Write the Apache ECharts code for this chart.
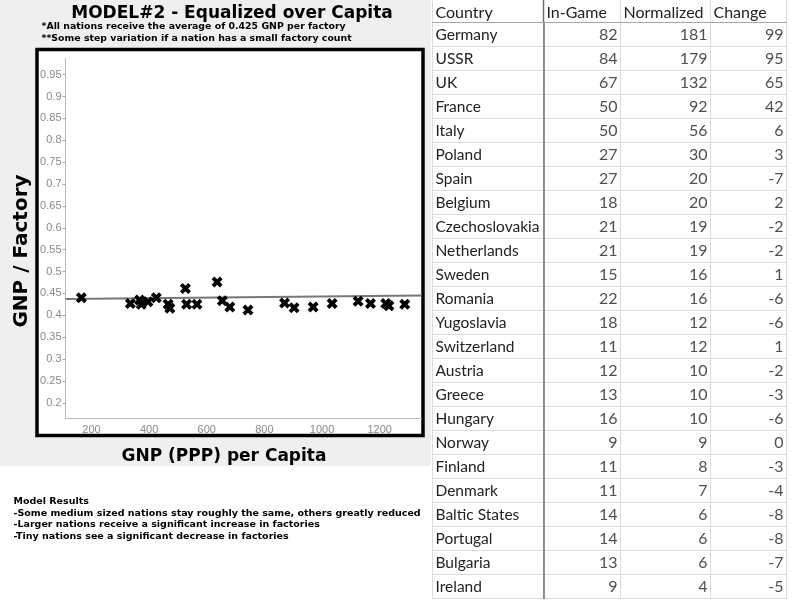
<!DOCTYPE html>
<html>
<head>
<meta charset="utf-8">
<script src="https://cdn.jsdelivr.net/npm/echarts@6/dist/echarts.min.js"></script>
<style>
  html, body { margin: 0; padding: 0; background: #fff; }
  #chart { width: 792px; height: 600px; }
</style>
</head>
<body>
<div id="chart"></div>
<script>
// scatter: GNP (PPP) per capita vs GNP per factory, one point per nation
const gnpPerCapita = [165, 335, 367, 373, 396, 425, 466, 472, 526, 530, 566, 636, 654, 680, 743, 870, 903, 969, 1035, 1125, 1168, 1221, 1232, 1287];
const gnpPerFactory = [0.440, 0.427, 0.435, 0.425, 0.431, 0.440, 0.425, 0.416, 0.461, 0.425, 0.425, 0.476, 0.433, 0.419, 0.412, 0.428, 0.417, 0.419, 0.427, 0.432, 0.427, 0.427, 0.422, 0.425];
// trend line end points
const trendX = [110, 1345];
const trendY = [0.4373, 0.4452];

// factory table
const tableHeaders = ['Country', 'In-Game', 'Normalized', 'Change'];
const countries = ['Germany', 'USSR', 'UK', 'France', 'Italy', 'Poland', 'Spain', 'Belgium', 'Czechoslovakia', 'Netherlands', 'Sweden', 'Romania', 'Yugoslavia', 'Switzerland', 'Austria', 'Greece', 'Hungary', 'Norway', 'Finland', 'Denmark', 'Baltic States', 'Portugal', 'Bulgaria', 'Ireland'];
const inGame = [82, 84, 67, 50, 50, 27, 27, 18, 21, 21, 15, 22, 18, 11, 12, 13, 16, 9, 11, 11, 14, 14, 13, 9];
const normalized = [181, 179, 132, 92, 56, 30, 20, 20, 19, 19, 16, 16, 12, 12, 10, 10, 10, 9, 8, 7, 6, 6, 6, 4];
const change = [99, 95, 65, 42, 6, 3, -7, 2, -2, -2, 1, -6, -6, 1, -2, -3, -6, 0, -3, -4, -8, -8, -7, -5];

const chart = echarts.init(document.getElementById('chart'));

const BOLD = '"DejaVu Sans", Verdana, sans-serif';
const TABLE_FONT = 'Lato, "Open Sans", sans-serif';
const gridLine = '#dcdcdc';

// table column edges (px) and row layout
const colEdges = [432.5, 543.5, 620.5, 710.5, 786.5];
const tableTop = 22.5;
const rowH = 24;
const numCols = [inGame, normalized, change];

const grids = [{ left: 65.5, top: 58.5, width: 356, height: 360 }];
const xAxes = [{
  gridIndex: 0, type: 'value', min: 110, max: 1345, splitNumber: 6,
  axisLine: { lineStyle: { color: '#bbb' } },
  axisTick: { show: false },
  splitLine: { show: false },
  axisLabel: { color: '#8a8a8a', fontSize: 11, fontFamily: 'Liberation Sans, Arial', margin: 6, showMinLabel: false, showMaxLabel: false, formatter: v => String(v) }
}];
const yAxes = [{
  gridIndex: 0, type: 'value', min: 0.164, max: 0.987, splitNumber: 16,
  axisLine: { show: true, lineStyle: { color: '#bbb' } },
  axisTick: { show: true, length: 3, lineStyle: { color: '#aaa' } },
  splitLine: { show: false },
  axisLabel: { color: '#8a8a8a', fontSize: 11, fontFamily: 'Liberation Sans, Arial', margin: 4, showMinLabel: false, showMaxLabel: false }
}];
const series = [
  {
    type: 'line',
    xAxisIndex: 0, yAxisIndex: 0,
    data: trendX.map((x, i) => [x, trendY[i]]),
    symbol: 'none',
    lineStyle: { color: '#777', width: 2 },
    silent: true,
    z: 1
  },
  {
    type: 'scatter',
    xAxisIndex: 0, yAxisIndex: 0,
    data: gnpPerCapita.map((x, i) => [x, gnpPerFactory[i]]),
    symbol: 'path://M0,2.5 L2.5,0 L5,2.5 L7.5,0 L10,2.5 L7.5,5 L10,7.5 L7.5,10 L5,7.5 L2.5,10 L0,7.5 L2.5,5 Z',
    symbolSize: 11,
    itemStyle: { color: '#000', opacity: 1 },
    z: 3
  }
];

// one grid per table column
for (let c = 0; c < 4; c++) {
  const gi = c + 1;
  grids.push({
    left: colEdges[c], top: tableTop, width: colEdges[c + 1] - colEdges[c], height: rowH * countries.length,
    show: true, borderColor: gridLine, borderWidth: 1, backgroundColor: 'transparent'
  });
  xAxes.push({
    gridIndex: gi, type: 'value', min: 0, max: 1, position: 'top',
    axisLine: { show: true, onZero: false, lineStyle: { color: '#a6a6a6', width: 1 } },
    axisTick: { show: false }, axisLabel: { show: false }, splitLine: { show: false }
  });
  yAxes.push({
    gridIndex: gi, type: 'category', data: countries, inverse: true,
    axisLine: { show: c === 1, lineStyle: { color: '#6e6e6e', width: 1.5 } },
    axisTick: { show: false },
    splitLine: { show: true, lineStyle: { color: gridLine } },
    axisLabel: c === 0
      ? { inside: true, margin: 3, color: '#222', fontSize: 15.5, fontFamily: TABLE_FONT, padding: [2, 0, 0, 0] }
      : { show: false }
  });
  if (c > 0) {
    const vals = numCols[c - 1];
    series.push({
      type: 'scatter',
      xAxisIndex: gi, yAxisIndex: gi,
      data: countries.map((name, k) => [1, name, vals[k]]),
      symbolSize: 0,
      silent: true,
      label: {
        show: true, position: 'left', distance: 3,
        formatter: p => String(p.value[2]),
        color: '#222', fontSize: 16, fontFamily: TABLE_FONT, padding: [2, 0, 0, 0]
      }
    });
  }
}

// header row text and separators, page decoration
const graphic = [
  { type: 'rect', shape: { x: 0, y: 0, width: 431, height: 466 }, style: { fill: '#efefef' }, z: -10 },
  { type: 'rect', shape: { x: 37, y: 49.5, width: 386, height: 386 }, style: { fill: '#fff', stroke: '#000', lineWidth: 3.5 }, z: -9 },
  { type: 'text', x: 232, y: 14, style: { text: 'MODEL#2 - Equalized over Capita', font: 'bold 17px ' + BOLD, fill: '#000', align: 'center', textAlign: 'center', verticalAlign: 'middle', textVerticalAlign: 'middle' } },
  { type: 'text', x: 41.5, y: 27, style: { text: '*All nations receive the average of 0.425 GNP per factory', font: 'bold 9.4px ' + BOLD, fill: '#000', verticalAlign: 'middle', textVerticalAlign: 'middle' } },
  { type: 'text', x: 41.5, y: 38.5, style: { text: '**Some step variation if a nation has a small factory count', font: 'bold 9.4px ' + BOLD, fill: '#000', verticalAlign: 'middle', textVerticalAlign: 'middle' } },
  { type: 'text', x: 21.5, y: 251, rotation: Math.PI / 2, style: { text: 'GNP / Factory', font: 'bold 20px ' + BOLD, fill: '#000', align: 'center', textAlign: 'center', verticalAlign: 'middle', textVerticalAlign: 'middle' } },
  { type: 'text', x: 224, y: 457, style: { text: 'GNP (PPP) per Capita', font: 'bold 17px ' + BOLD, fill: '#000', align: 'center', textAlign: 'center', verticalAlign: 'middle', textVerticalAlign: 'middle' } },
  { type: 'text', x: 13.5, y: 501.5, style: { text: 'Model Results', font: 'bold 9.5px ' + BOLD, fill: '#000', verticalAlign: 'middle', textVerticalAlign: 'middle' } },
  { type: 'text', x: 13.5, y: 513.5, style: { text: '-Some medium sized nations stay roughly the same, others greatly reduced', font: 'bold 9.5px ' + BOLD, fill: '#000', verticalAlign: 'middle', textVerticalAlign: 'middle' } },
  { type: 'text', x: 13.5, y: 525, style: { text: '-Larger nations receive a significant increase in factories', font: 'bold 9.5px ' + BOLD, fill: '#000', verticalAlign: 'middle', textVerticalAlign: 'middle' } },
  { type: 'text', x: 13.5, y: 536.5, style: { text: '-Tiny nations see a significant decrease in factories', font: 'bold 9.5px ' + BOLD, fill: '#000', verticalAlign: 'middle', textVerticalAlign: 'middle' } }
];
tableHeaders.forEach((h, c) => {
  graphic.push({ type: 'text', x: colEdges[c] + 3, y: 13, style: { text: h, font: '16px ' + TABLE_FONT, fill: '#222', verticalAlign: 'middle', textVerticalAlign: 'middle' } });
});
colEdges.forEach((x, c) => {
  graphic.push({ type: 'line', shape: { x1: x, y1: 0, x2: x, y2: tableTop }, style: { stroke: c === 1 ? '#6e6e6e' : gridLine, lineWidth: c === 1 ? 1.5 : 1 } });
});

chart.setOption({
  animation: false,
  backgroundColor: '#fff',
  graphic: graphic,
  grid: grids,
  xAxis: xAxes,
  yAxis: yAxes,
  series: series
});
</script>
</body>
</html>
